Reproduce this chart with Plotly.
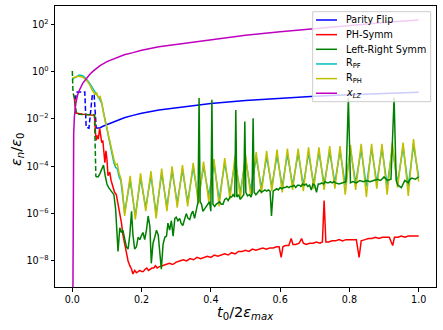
import plotly.graph_objects as go

# ---------------- data (y stored as log10) ----------------
pf_dash_x = [0.007, 0.014, 0.036, 0.040, 0.048, 0.058, 0.063, 0.069]
pf_dash_log = [-1.2, -0.86, -0.86, -2.35, -2.39, -0.95, -1.0, -2.39]
pf_x = [0.069, 0.08, 0.09, 0.1, 0.125, 0.15, 0.175, 0.2, 0.25, 0.3, 0.35, 0.4, 0.5, 0.6, 0.7, 0.8, 0.9, 1.0]
pf_log = [-2.39, -2.37, -2.3, -2.24, -2.08, -1.95, -1.85, -1.76, -1.62, -1.52, -1.43, -1.35, -1.22, -1.12, -1.04, -0.98, -0.92, -0.87]

ph_x = [0.005, 0.01, 0.03, 0.05, 0.064, 0.067, 0.069, 0.072, 0.075, 0.079, 0.082, 0.085, 0.088, 0.091, 0.094,
        0.097, 0.1, 0.103, 0.108, 0.112, 0.117, 0.122, 0.127, 0.132, 0.137, 0.142, 0.146, 0.151, 0.156, 0.161,
        0.166, 0.171, 0.175, 0.18, 0.185, 0.19, 0.195, 0.2, 0.205, 0.21, 0.215, 0.22, 0.225, 0.23, 0.235, 0.24,
        0.245, 0.25, 0.26, 0.27, 0.28, 0.29, 0.3, 0.31, 0.32, 0.33, 0.34, 0.35, 0.36, 0.37, 0.38, 0.39, 0.4,
        0.41, 0.42, 0.43, 0.44, 0.45, 0.46, 0.47, 0.48, 0.49, 0.5, 0.51, 0.52, 0.53, 0.54, 0.55, 0.56, 0.57,
        0.58, 0.59, 0.597, 0.603, 0.608, 0.615, 0.625, 0.632, 0.637, 0.645, 0.655, 0.662, 0.667, 0.675, 0.685,
        0.695, 0.705, 0.715, 0.722, 0.727, 0.732, 0.74, 0.75, 0.76, 0.77, 0.78, 0.79, 0.8, 0.81, 0.82, 0.828,
        0.834, 0.845, 0.855, 0.865, 0.875, 0.885, 0.895, 0.905, 0.915, 0.925, 0.93, 0.94, 0.95, 0.96, 0.97,
        0.98, 0.99, 1.0]
ph_log = [-1.0, -1.75, -1.8, -1.82, -1.85, -2.6, -2.9, -2.7, -2.85, -2.4, -2.75, -3.0, -2.9, -3.5, -3.85,
          -3.35, -3.7, -4.4, -4.25, -4.6, -4.9, -5.1, -5.2, -5.6, -5.95, -6.4, -6.9, -7.3, -7.7, -8.0,
          -8.2, -8.35, -8.55, -8.4, -8.5, -8.45, -8.4, -8.45, -8.45, -8.35, -8.3, -8.4, -8.35, -8.3, -8.3, -8.2,
          -8.3, -8.25, -8.2, -8.15, -8.1, -8.15, -8.05, -8.0, -7.95, -8.0, -7.9, -7.95, -7.85, -7.9, -7.85, -7.8, -7.85,
          -7.75, -7.8, -7.75, -7.7, -7.75, -7.65, -7.7, -7.6, -7.6, -7.55, -7.6, -7.5, -7.55, -7.5, -7.45, -7.5, -7.45,
          -7.45, -7.4, -7.4, -7.85, -7.4, -7.35, -7.35, -7.05, -7.3, -7.3, -7.25, -7.05, -7.25, -7.3, -7.25,
          -7.25, -7.2, -7.25, -7.2, -5.45, -7.2, -7.2, -7.15, -7.15, -7.1, -7.15, -7.1, -7.1, -7.1, -7.1, -7.85,
          -7.15, -7.1, -7.05, -7.05, -7.0, -7.05, -7.0, -7.0, -7.0, -7.35, -7.0, -7.0, -6.95, -7.0, -6.95,
          -6.95, -6.95, -6.95]

lr_dash_x = [0.0, 0.002, 0.007, 0.012, 0.064, 0.068]
lr_dash_log = [0.02, -0.9, -1.15, -1.8, -1.83, -4.44]
lr_x = [0.068, 0.075, 0.08, 0.085, 0.09, 0.095, 0.1, 0.105, 0.11, 0.115, 0.12, 0.125, 0.13, 0.132, 0.137,
        0.142, 0.146, 0.151, 0.156, 0.161, 0.166, 0.171, 0.175, 0.18, 0.185, 0.19, 0.195, 0.199, 0.204, 0.209,
        0.214, 0.219, 0.224, 0.228, 0.233, 0.238, 0.243, 0.248, 0.252, 0.257, 0.262, 0.267, 0.272, 0.276, 0.281,
        0.286, 0.291, 0.296, 0.3, 0.305, 0.31, 0.314, 0.319, 0.324, 0.329, 0.334, 0.339, 0.344, 0.348, 0.353,
        0.358, 0.363, 0.366, 0.369, 0.373, 0.377, 0.382, 0.387, 0.392, 0.396, 0.4, 0.403, 0.406, 0.411, 0.416,
        0.42, 0.425, 0.43, 0.435, 0.44, 0.445, 0.45, 0.455, 0.46, 0.464, 0.469, 0.472, 0.475, 0.48, 0.485, 0.49,
        0.495, 0.498, 0.501, 0.506, 0.511, 0.516, 0.519, 0.522, 0.525, 0.53, 0.535, 0.541, 0.546, 0.551, 0.556,
        0.561, 0.566, 0.571, 0.575, 0.58, 0.585, 0.59, 0.595, 0.6, 0.605, 0.61, 0.615, 0.62, 0.625, 0.63, 0.635,
        0.64, 0.645, 0.65, 0.655, 0.66, 0.665, 0.67, 0.675, 0.68, 0.685, 0.69, 0.695, 0.7, 0.705, 0.71, 0.715,
        0.72, 0.725, 0.73, 0.735, 0.74, 0.745, 0.75, 0.755, 0.76, 0.77, 0.78, 0.79, 0.797, 0.803, 0.81, 0.82,
        0.83, 0.84, 0.85, 0.86, 0.87, 0.88, 0.89, 0.9, 0.91, 0.92, 0.929, 0.935, 0.94, 0.95, 0.96, 0.97, 0.975,
        0.98, 0.99, 1.0]
lr_log = [-4.44, -4.44, -4.3, -4.1, -3.95, -4.4, -4.75, -4.9, -5.0, -5.1, -5.2, -5.8, -7.0, -7.6, -6.6,
          -6.8, -6.7, -7.0, -7.4, -7.5, -6.9, -5.9, -6.9, -7.5, -7.4, -7.0, -7.1, -6.95, -6.8, -7.1,
          -6.7, -6.1, -6.55, -8.1, -7.25, -7.0, -6.7, -6.9, -7.6, -8.35, -7.3, -7.0, -6.95, -6.4, -6.7,
          -6.3, -6.95, -6.2, -6.15, -6.3, -6.2, -6.4, -6.5, -6.2, -6.0, -6.2, -6.25, -6.0, -5.9, -6.2,
          -5.9, -5.5, -1.12, -5.5, -5.6, -5.9, -5.8, -5.7, -5.55, -5.5, -5.9, -1.19, -5.6, -5.7, -5.6,
          -5.55, -5.5, -5.6, -5.6, -5.4, -5.35, -5.45, -5.3, -5.3, -5.2, -5.3, -1.62, -5.3, -5.2, -5.4, -5.3,
          -5.2, -2.11, -5.1, -5.25, -5.2, -5.3, -5.15, -1.97, -5.1, -5.2, -5.1, -5.0, -5.1, -5.05, -5.0,
          -5.05, -5.0, -5.05, -6.1, -5.05, -5.0, -4.95, -5.0, -4.9, -4.95, -4.9, -4.9, -4.85, -4.9, -4.85, -4.85,
          -4.8, -4.9, -4.8, -4.8, -4.85, -4.75, -4.8, -4.75, -4.85, -4.8, -5.0, -4.75, -4.8, -5.1, -4.75, -4.75,
          -4.7, -4.75, -4.65, -4.7, -4.7, -4.65, -4.7, -4.65, -4.7, -4.75, -4.7, -4.65, -1.12, -4.7, -4.65, -4.7,
          -4.6, -4.65, -4.6, -4.65, -4.6, -4.55, -4.6, -4.45, -4.6, -4.55, -1.12, -4.6, -4.8, -4.9, -4.6, -4.7, -4.55,
          -4.5, -4.55, -4.45]

r_x = [0.0, 0.01, 0.02, 0.03, 0.04, 0.05, 0.058, 0.065, 0.07, 0.075, 0.08, 0.085, 0.09, 0.095, 0.1,
       0.105, 0.11, 0.115, 0.12, 0.125, 0.13, 0.135, 0.14, 0.145, 0.151,
       0.167, 0.182, 0.197, 0.212, 0.227, 0.242, 0.258, 0.273, 0.288, 0.303, 0.318, 0.333, 0.349, 0.364,
       0.379, 0.394, 0.409, 0.424, 0.440, 0.455, 0.470, 0.485, 0.500, 0.515, 0.531, 0.546, 0.561, 0.576,
       0.591, 0.606, 0.621, 0.636, 0.652, 0.667, 0.682, 0.697, 0.712, 0.727, 0.743, 0.758, 0.773, 0.788,
       0.803, 0.818, 0.834, 0.849, 0.864, 0.879, 0.894, 0.909, 0.924, 0.939, 0.955, 0.970, 0.985, 1.0]
rph_log = [-0.28, -0.22, -0.2, -0.24, -0.35, -0.55, -0.8, -0.95, -0.9, -1.1, -1.05, -1.3, -1.75, -2.1, -2.45,
           -2.75, -3.0, -3.4, -3.7, -3.95, -3.9, -4.3, -4.5, -5.0, -6.1,
           -4.4, -6.25, -4.3, -5.9, -4.2, -6.2, -4.1, -5.9, -4.0, -5.75, -3.95, -5.7, -3.85, -5.6,
           -3.8, -5.5, -3.7, -5.7, -3.65, -5.4, -3.55, -5.35, -3.5, -5.25, -3.4, -5.15, -3.35, -5.05,
           -3.3, -5.1, -3.25, -5.0, -3.25, -5.05, -3.2, -4.95, -3.2, -5.0, -3.15, -4.95, -3.15, -5.2,
           -3.1, -5.0, -3.05, -5.3, -3.05, -4.95, -3.05, -5.2, -3.0, -4.9, -3.0, -5.25, -2.85, -4.65]
rpf_log = [-0.32, -0.22, -0.15, -0.17, -0.3, -0.5, -0.72, -0.85, -0.95, -1.05, -1.2, -1.35, -1.7, -2.1, -2.5,
           -2.9, -3.2, -3.6, -3.85, -4.05, -4.1, -4.45, -4.6, -5.2, -5.95,
           -4.6, -6.1, -4.5, -5.75, -4.4, -6.0, -4.3, -5.7, -4.2, -5.55, -4.15, -5.5, -4.05, -5.35,
           -4.0, -5.25, -3.9, -5.4, -3.85, -5.15, -3.8, -5.1, -3.7, -5.0, -3.65, -4.9, -3.6, -4.85,
           -3.55, -4.85, -3.5, -4.8, -3.45, -4.8, -3.45, -4.75, -3.4, -4.75, -3.4, -4.7, -3.35, -4.8,
           -3.3, -4.7, -3.3, -4.85, -3.25, -4.7, -3.25, -4.8, -3.25, -4.7, -3.2, -4.85, -3.1, -4.45]

lz_x = [0.0015, 0.0025, 0.004, 0.006, 0.01, 0.015, 0.02, 0.03, 0.04, 0.05, 0.06, 0.08, 0.1, 0.125, 0.15,
        0.175, 0.2, 0.25, 0.3, 0.35, 0.4, 0.5, 0.6, 0.7, 0.8, 0.9, 1.0]
lz_log = [-10.0, -4.0, -2.6, -1.9, -1.35, -1.0, -0.8, -0.5, -0.3, -0.12, 0.02, 0.25, 0.42, 0.58, 0.71,
          0.8, 0.9, 1.05, 1.15, 1.25, 1.35, 1.53, 1.68, 1.82, 1.96, 2.07, 2.18]

x_ticks = [0.0, 0.2, 0.4, 0.6, 0.8, 1.0]
x_tick_text = ["0.0", "0.2", "0.4", "0.6", "0.8", "1.0"]
y_ticks = [1e-8, 1e-6, 1e-4, 1e-2, 1e0, 1e2]
y_tick_text = ["10<sup>\u22128</sup>", "10<sup>\u22126</sup>", "10<sup>\u22124</sup>",
               "10<sup>\u22122</sup>", "10<sup>0</sup>", "10<sup>2</sup>"]

legend_names = ["Parity Flip", "PH-Symm", "Left-Right Symm", "R<sub>PF</sub>", "R<sub>PH</sub>",
                "<i>x</i><sub><i>LZ</i></sub>"]

# ---------------- style ----------------
C_B, C_R, C_G, C_C, C_Y, C_M = "#0000ff", "#ff0000", "#008000", "#00bfbf", "#bfbf00", "#bf00bf"
legend_colors = [C_B, C_R, C_G, C_C, C_Y, C_M]
LW = 1.5
DASH = "5px,2.5px"
FONT = "DejaVu Sans"


def vals(logs):
    return [10 ** v for v in logs]


fig = go.Figure()
def add(x, logs, color, dash="solid"):
    fig.add_trace(go.Scatter(x=x, y=vals(logs), mode="lines", showlegend=False,
                             line=dict(color=color, width=LW, dash=dash)))

add(pf_dash_x, pf_dash_log, C_B, DASH)
add(pf_x, pf_log, C_B)
add(ph_x, ph_log, C_R)
add(r_x, rpf_log, C_C)
add(r_x, rph_log, C_Y)
add(lr_x, lr_log, C_G)
add(lr_dash_x, lr_dash_log, C_G, DASH)
add(lz_x, lz_log, C_M)

# plot area in pixels
L, R, T, B = 55, 436, 6, 287
W, H = 443, 330
def px(xp):
    return (xp - L) / (R - L)
def py(yp):
    return (B - yp) / (B - T)

shapes = []
annotations = []
# legend box
shapes.append(dict(type="rect", xref="paper", yref="paper", x0=px(312.7), x1=px(430.7),
                   y0=py(101.7), y1=py(11.7), fillcolor="rgba(255,255,255,0.8)",
                   line=dict(color="#cccccc", width=1), layer="above"))
for i, (name, col) in enumerate(zip(legend_names, legend_colors)):
    yy = 20.0 + i * 14.65
    shapes.append(dict(type="line", xref="paper", yref="paper", x0=px(316), x1=px(337),
                       y0=py(yy), y1=py(yy), line=dict(color=col, width=LW), layer="above"))
    annotations.append(dict(xref="paper", yref="paper", x=px(344), y=py(yy), text=name,
                            showarrow=False, xanchor="left", yanchor="middle",
                            font=dict(family=FONT, size=9.6, color="black")))

# axis titles
annotations.append(dict(xref="paper", yref="paper", x=px(245), y=py(313),
                        text="<i>t</i><sub>0</sub>/2<i>\u03b5</i><sub><i>max</i></sub>",
                        showarrow=False, xanchor="center", yanchor="middle",
                        font=dict(family=FONT, size=14.5, color="black")))
annotations.append(dict(xref="paper", yref="paper", x=px(17), y=py(150),
                        text="<i>\u03b5</i><sub><i>n</i></sub>/<i>\u03b5</i><sub>0</sub>",
                        showarrow=False, xanchor="center", yanchor="middle", textangle=-90,
                        font=dict(family=FONT, size=14.5, color="black")))

axis_common = dict(showline=True, linecolor="black", linewidth=1, mirror=True, ticks="outside",
                   ticklen=3.5, tickwidth=1, tickcolor="black", showgrid=False, zeroline=False,
                   automargin=False,
                   tickfont=dict(family=FONT, size=9.6, color="black"))

fig.update_layout(
    template="none",
    width=W, height=H, margin=dict(l=L, r=W - R, t=T, b=H - B, pad=0, autoexpand=False),
    paper_bgcolor="white", plot_bgcolor="white", showlegend=False,
    xaxis=dict(range=[-0.05, 1.05], tickvals=x_ticks, ticktext=x_tick_text, **axis_common),
    yaxis=dict(type="log", range=[-9.1, 2.77], tickvals=y_ticks, ticktext=y_tick_text, **axis_common),
    shapes=shapes, annotations=annotations,
)

fig.write_html("out.html", config={"displayModeBar": False},
               post_script="document.body.style.margin='0';document.body.style.overflow='hidden';")
